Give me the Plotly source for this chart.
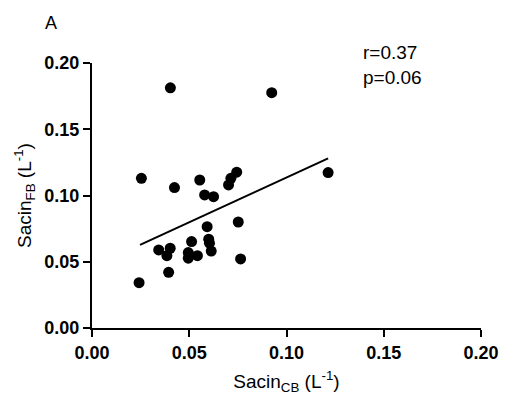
import plotly.graph_objects as go

# Data
sacin_cb = [0.0403, 0.0924, 0.0254, 0.0424, 0.0554, 0.0744, 0.0714, 0.0702,
            0.0579, 0.0625, 0.1214, 0.0592, 0.0752, 0.0343, 0.0402, 0.0385,
            0.0512, 0.0495, 0.0495, 0.0542, 0.0600, 0.0604, 0.0613, 0.0394,
            0.0242, 0.0764]
sacin_fb = [0.1813, 0.1776, 0.1130, 0.1060, 0.1117, 0.1176, 0.1130, 0.1080,
            0.1004, 0.0991, 0.1173, 0.0765, 0.0800, 0.0589, 0.0602, 0.0546,
            0.0652, 0.0569, 0.0527, 0.0546, 0.0670, 0.0640, 0.0581, 0.0420,
            0.0342, 0.0521]

# Regression line end points
fit_x = [0.0247, 0.1214]
fit_y = [0.0627, 0.1280]

tick_vals = [0.00, 0.05, 0.10, 0.15, 0.20]
tick_text = ["0.00", "0.05", "0.10", "0.15", "0.20"]

FONT = "Liberation Sans, Arial, sans-serif"

fig = go.Figure()
fig.add_trace(go.Scatter(x=sacin_cb, y=sacin_fb, mode="markers",
                         marker=dict(color="black", size=11),
                         showlegend=False))
fig.add_trace(go.Scatter(x=fit_x, y=fit_y, mode="lines",
                         line=dict(color="black", width=2),
                         showlegend=False))

axis_common = dict(
    range=[0, 0.2], tickmode="array", tickvals=tick_vals, ticktext=tick_text,
    showline=True, linecolor="black", linewidth=2,
    ticks="outside", ticklen=7, tickwidth=2, tickcolor="black",
    showgrid=False, zeroline=False,
    tickfont=dict(family=FONT, size=18, color="black", weight="bold"),
)

fig.update_layout(
    width=511, height=405, autosize=False,
    margin=dict(l=92, r=23, t=63, b=77),
    paper_bgcolor="white", plot_bgcolor="white",
    font=dict(family=FONT, color="black"),
    xaxis=dict(**axis_common,
               title=dict(text="Sacin<sub>CB</sub> (L<sup>-1</sup>)",
                          font=dict(family=FONT, size=19, color="black"),
                          standoff=13)),
    yaxis=dict(**axis_common,
               title=dict(text="Sacin<sub>FB</sub> (L<sup>-1</sup>)",
                          font=dict(family=FONT, size=19, color="black"),
                          standoff=8)),
    annotations=[
        dict(text="A", xref="paper", yref="paper",
             x=(42 - 92) / 396, y=(328 - 11) / 265,
             xanchor="left", yanchor="top", showarrow=False,
             font=dict(family=FONT, size=18, color="black")),
        dict(text="r=0.37<br>p=0.06", xref="paper", yref="paper",
             x=(366 - 92) / 396, y=(328 - 40) / 265,
             xanchor="left", yanchor="top", align="left", showarrow=False,
             font=dict(family=FONT, size=19, color="black")),
    ],
)

fig.write_html("out.html")
